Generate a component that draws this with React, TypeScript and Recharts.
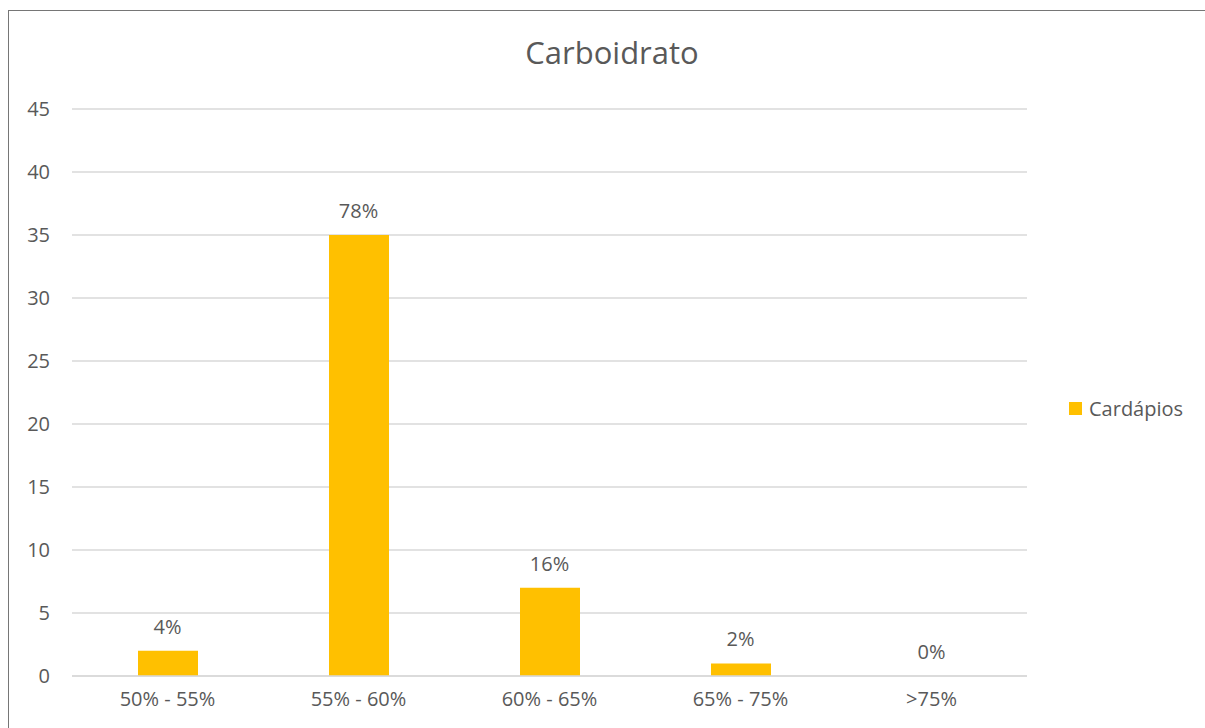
import { ComposedChart, Bar, Line, XAxis, YAxis, CartesianGrid, LabelList } from 'recharts';

const categories = ['50% - 55%', '55% - 60%', '60% - 65%', '65% - 75%', '>75%'];
const cardapios = [2, 35, 7, 1, 0];
const percentLabels = ['4%', '78%', '16%', '2%', '0%'];
const yTicks = [0, 5, 10, 15, 20, 25, 30, 35, 40, 45];

const data = categories.map((name, i) => ({ name, value: cardapios[i], pct: percentLabels[i] }));

const FONT = '"Open Sans", "Noto Sans", sans-serif';
const TEXT = '#595959';
const BAR = '#FFC000';
const FS = 20;

export default function App() {
  return (
    <div
      style={{
        position: 'fixed',
        left: 8,
        top: 10,
        width: 1300,
        height: 800,
        border: '1px solid #767676',
        background: '#fff',
        boxSizing: 'border-box',
      }}
    >
      <div
        style={{
          position: 'absolute',
          left: 0,
          width: 1206,
          top: 20,
          textAlign: 'center',
          fontFamily: FONT,
          fontSize: 31,
          color: TEXT,
        }}
      >
        Carboidrato
      </div>
      {/* legend */}
      <div
        style={{
          position: 'absolute',
          left: 1060,
          top: 384,
          display: 'flex',
          alignItems: 'center',
          fontFamily: FONT,
          fontSize: FS,
          color: TEXT,
        }}
      >
        <span style={{ width: 13, height: 13, background: BAR, display: 'inline-block', marginRight: 7 }} />
        Cardápios
      </div>
      <ComposedChart width={1200} height={720} data={data} margin={{ top: 98, right: 182, left: 0, bottom: 25 }}>
        <CartesianGrid vertical={false} stroke="#d9d9d9" strokeWidth={1.5} />
        <XAxis
          dataKey="name"
          axisLine={{ stroke: '#d9d9d9', strokeWidth: 1.5 }}
          tickLine={false}
          tickMargin={10}
          height={30}
          tick={{ fill: TEXT, fontSize: FS, fontFamily: FONT }}
        />
        <YAxis
          width={63}
          domain={[0, 45]}
          ticks={yTicks}
          axisLine={false}
          tickLine={false}
          tickMargin={16}
          tick={{ fill: TEXT, fontSize: FS, fontFamily: FONT }}
        />
        <Bar dataKey="value" fill={BAR} barSize={60} isAnimationActive={false} />
        <Line dataKey="value" stroke="none" dot={false} activeDot={false} isAnimationActive={false}>
          <LabelList dataKey="pct" position="top" offset={17} fill={TEXT} fontSize={FS} fontFamily={FONT} />
        </Line>
      </ComposedChart>
    </div>
  );
}
